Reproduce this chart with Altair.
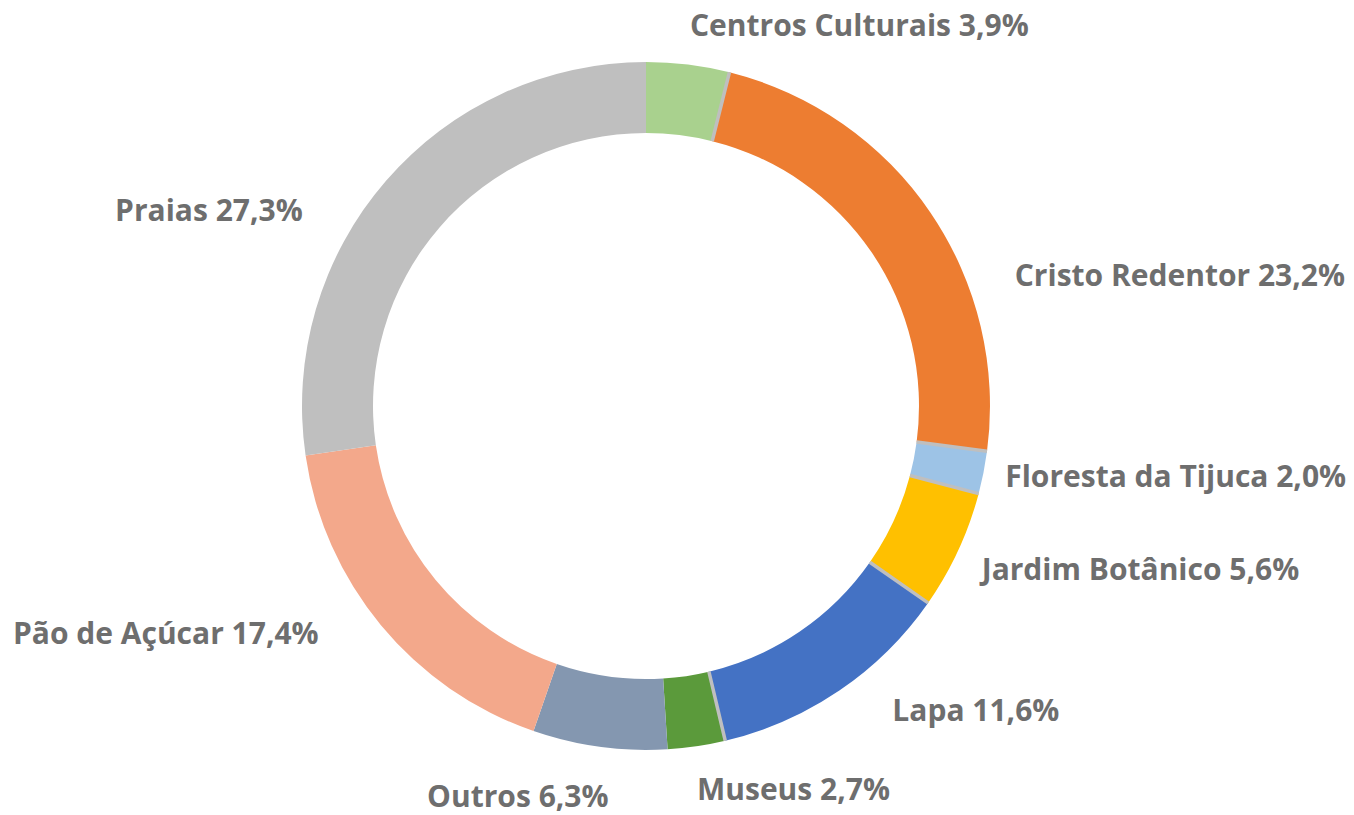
import altair as alt
import pandas as pd

# ---- data ----
categories = ["Centros Culturais", "Cristo Redentor", "Floresta da Tijuca",
              "Jardim Botânico", "Lapa", "Museus", "Outros",
              "Pão de Açúcar", "Praias"]
values = [3.9, 23.2, 2.0, 5.6, 11.6, 2.7, 6.3, 17.4, 27.3]
value_labels = ["3,9%", "23,2%", "2,0%", "5,6%", "11,6%", "2,7%", "6,3%", "17,4%", "27,3%"]
# unlabeled 0% entries that show as grey separator lines after these categories
sliver_after = ["Centros Culturais", "Cristo Redentor", "Floresta da Tijuca",
                "Jardim Botânico", "Lapa"]
sliver_value = 0.0

# ---- style ----
colors = {
    "Centros Culturais": "#A9D18E",
    "Cristo Redentor": "#ED7D31",
    "Floresta da Tijuca": "#9DC3E6",
    "Jardim Botânico": "#FFC000",
    "Lapa": "#4472C4",
    "Museus": "#5B9A3B",
    "Outros": "#8497B0",
    "Pão de Açúcar": "#F3A88B",
    "Praias": "#BFBFBF",
}
sliver_color = "#BFBFBF"
text_color = "#6E6E6E"
FONT = "Open Sans"
FSIZE = 30

# label alignment and nudges (layout only)
label_layout = {
    "Centros Culturais": ("left", 0, -22),
    "Cristo Redentor": ("left", 71, 73),
    "Floresta da Tijuca": ("left", 6, 2),
    "Jardim Botânico": ("left", 9, 14),
    "Lapa": ("left", 44, 8),
    "Museus": ("left", -2, 29),
    "Outros": ("right", 11, 35),
    "Pão de Açúcar": ("right", -50, 0),
    "Praias": ("right", -71, 42),
}

CX, CY = 646, 406
R_OUT, R_IN, R_LBL = 344, 273, 360

rows = []
idx = 0
for c, v, vl in zip(categories, values, value_labels):
    rows.append({"key": c, "value": v, "label": f"{c} {vl}", "idx": idx, "sliver": 0})
    idx += 1
    if c in sliver_after:
        rows.append({"key": f"sliver_{idx}", "value": sliver_value, "label": "",
                     "idx": idx, "sliver": 1})
        idx += 1
df = pd.DataFrame(rows)

domain = list(df["key"])
rng = [colors.get(k, sliver_color) for k in domain]

base = alt.Chart(df).encode(
    theta=alt.Theta("value:Q", stack=True),
    order=alt.Order("idx:Q"),
    x=alt.value(CX),
    y=alt.value(CY),
)

arcs = base.mark_arc(outerRadius=R_OUT, innerRadius=R_IN).encode(
    color=alt.Color("key:N", scale=alt.Scale(domain=domain, range=rng), legend=None)
)

separators = base.mark_arc(
    outerRadius=R_OUT, innerRadius=R_IN, fillOpacity=0, stroke=sliver_color,
).encode(
    strokeWidth=alt.condition("datum.sliver == 1", alt.value(3.5), alt.value(0))
)

layers = [arcs, separators]
for c in categories:
    align, dx, dy = label_layout[c]
    t = base.mark_text(
        radius=R_LBL, align=align, baseline="middle", dx=dx, dy=dy,
        font=FONT, fontSize=FSIZE, fontWeight="bold", color=text_color,
    ).encode(
        text=alt.condition(f"datum.key == '{c}'", "label:N", alt.value(""))
    )
    layers.append(t)

chart = alt.layer(*layers).properties(
    width=1354, height=815,
    autosize=alt.AutoSizeParams(type="none"),
    padding=0,
).configure_view(stroke=None)

chart.save("out.html", embed_options={"renderer": "svg", "actions": False})
